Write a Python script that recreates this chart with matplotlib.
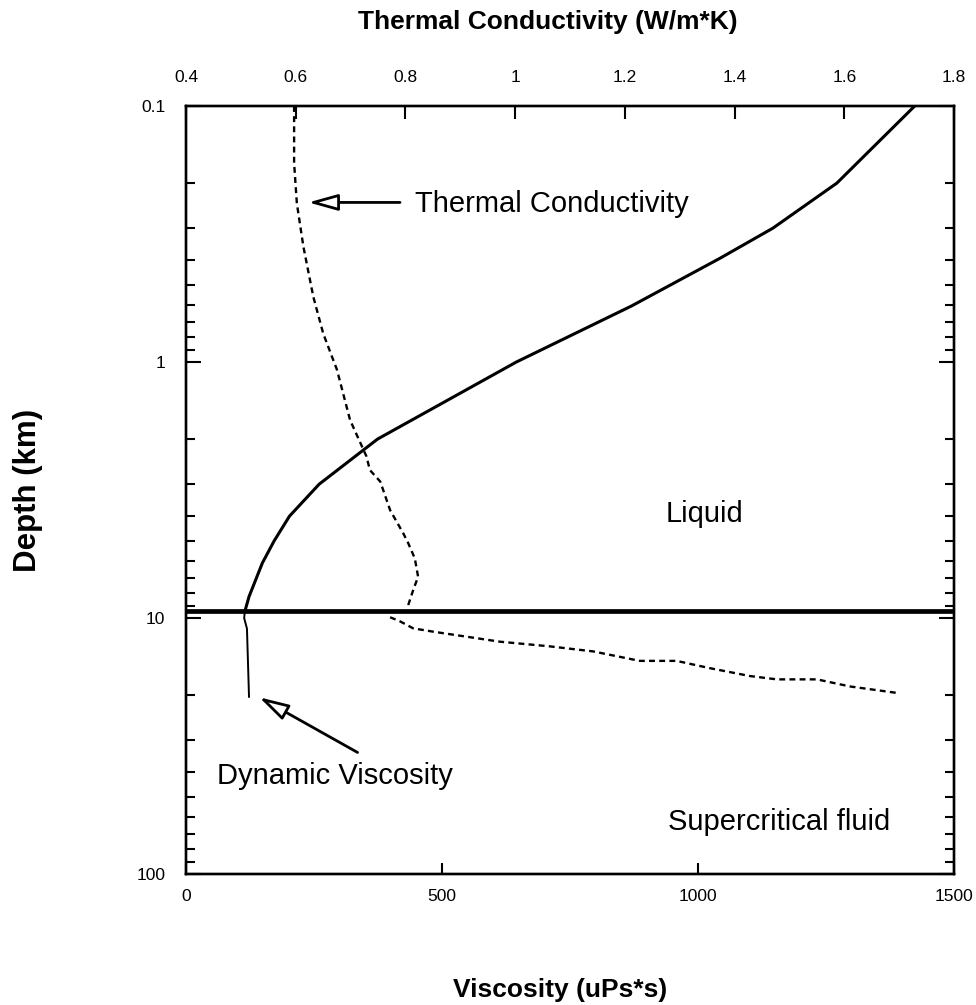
import numpy as np
import matplotlib
matplotlib.use("Agg")
import matplotlib.pyplot as plt
from matplotlib.ticker import FixedLocator, FixedFormatter, LogLocator, NullFormatter

plt.rcParams['font.family'] = ['Liberation Sans', 'DejaVu Sans']

# ---- data ----
# dynamic viscosity (uPa*s), liquid part (above the boundary)
visc_depth_liq = [0.1, 0.2, 0.30, 0.393, 0.604, 1.0, 2.0, 3.0, 4.0, 5.0, 6.1, 8.25, 9.4]
visc_liq = [1423, 1271, 1146, 1043, 870, 645, 374, 260, 202, 172, 149, 123, 115]

# dynamic viscosity, supercritical part (below the boundary)
visc_depth_sc = [9.4, 10.0, 11.0, 20.3]
visc_sc = [115, 113.5, 119, 123]

# thermal conductivity (W/m*K), liquid part
tc_depth_liq = [0.1, 0.167, 0.24, 0.355, 0.556, 0.773, 0.953, 1.07, 1.685, 2.34,
                2.64, 2.93, 3.79, 4.67, 5.1, 5.85, 6.9, 7.78, 8.9, 9.2]
tc_liq = [0.597, 0.597, 0.602, 0.614, 0.632, 0.650, 0.666, 0.675, 0.699, 0.729,
          0.735, 0.754, 0.772, 0.796, 0.805, 0.817, 0.823, 0.814, 0.805, 0.805]

# thermal conductivity, supercritical part
tc_depth_sc = [9.93, 10.3, 10.97, 11.31, 12.37, 12.9, 13.5, 14.7, 14.7, 15.7,
               16.85, 17.36, 17.36, 18.5, 19.6]
tc_sc = [0.772, 0.79, 0.814, 0.851, 0.972, 1.063, 1.142, 1.227, 1.294, 1.355,
         1.428, 1.477, 1.55, 1.61, 1.695]

boundary_depth = 9.4

depth_ticks = [0.1, 1, 10, 100]
depth_labels = ['0.1', '1', '10', '100']
visc_ticks = [0, 500, 1000, 1500]
visc_labels = ['0', '500', '1000', '1500']
tc_ticks = [0.4, 0.6, 0.8, 1.0, 1.2, 1.4, 1.6, 1.8]
tc_labels = ['0.4', '0.6', '0.8', '1', '1.2', '1.4', '1.6', '1.8']

# ---- figure ----
fig = plt.figure(figsize=(9.76, 10.05), dpi=100)
ax = fig.add_axes([0.1906, 0.1303, 0.787, 0.7642])
ax2 = ax.twiny()

ax.set_yscale('log')
ax.set_ylim(100, 0.1)
ax.set_xlim(0, 1500)
ax2.set_xlim(0.4, 1.8)

# curves
ax.plot(visc_liq, visc_depth_liq, color='black', lw=2.2, zorder=3)
ax.plot(visc_sc, visc_depth_sc, color='black', lw=1.4, zorder=3)
dash = (0, (2.5, 1.8))
ax2.plot(tc_liq, tc_depth_liq, color='black', lw=1.7, linestyle=dash, zorder=3)
ax2.plot(tc_sc, tc_depth_sc, color='black', lw=1.7, linestyle=dash, zorder=3)

# liquid / supercritical boundary
ax.axhline(boundary_depth, color='black', lw=3.4, zorder=4)

# ticks
for side in ax.spines.values():
    side.set_linewidth(1.7)
for side in ax2.spines.values():
    side.set_linewidth(1.7)

ax.yaxis.set_major_locator(FixedLocator(depth_ticks))
ax.yaxis.set_major_formatter(FixedFormatter(depth_labels))
ax.yaxis.set_minor_locator(LogLocator(base=10, subs=np.arange(2, 10)))
ax.yaxis.set_minor_formatter(NullFormatter())
ax.set_xticks(visc_ticks)
ax.set_xticklabels(visc_labels)
ax2.set_xticks(tc_ticks)
ax2.set_xticklabels(tc_labels)

ax.tick_params(axis='y', which='major', direction='in', length=11, width=1.5,
               left=True, right=True, labelsize=12.5, pad=15)
ax.tick_params(axis='y', which='minor', direction='in', length=6.5, width=1.5,
               left=True, right=True)
ax.tick_params(axis='x', which='major', direction='in', length=8, width=1.5,
               top=False, labelsize=12.5, pad=11)
ax.tick_params(axis='x', which='minor', bottom=False, top=False)
ax2.tick_params(axis='x', which='major', direction='in', length=9.5, width=1.5,
                bottom=False, labelsize=12.5, pad=15)
ax2.tick_params(axis='x', which='minor', bottom=False, top=False)

# annotations
head = '-|>,head_length=0.9,head_width=0.25'
ax2.annotate('', xy=(0.623, 0.238), xytext=(0.79, 0.238),
             arrowprops=dict(arrowstyle=head, fc='white', ec='black', lw=2,
                             mutation_scale=20, shrinkA=0, shrinkB=0), zorder=5)
ax2.text(0.817, 0.259, 'Thermal Conductivity', fontsize=21, ha='left', va='baseline')

ax.annotate('', xy=(143, 20.4), xytext=(335, 33.5),
            arrowprops=dict(arrowstyle=head, fc='white', ec='black', lw=2,
                            mutation_scale=20, shrinkA=0, shrinkB=0), zorder=5)
ax.text(61, 44.5, 'Dynamic Viscosity', fontsize=21, ha='left', va='baseline')

ax.text(937, 4.21, 'Liquid', fontsize=21, ha='left', va='baseline')
ax.text(941, 67.3, 'Supercritical fluid', fontsize=21, ha='left', va='baseline')

# axis titles
fig.text(0.5615, 1 - 29 / 1005, 'Thermal Conductivity (W/m*K)', fontsize=19,
         fontweight='bold', ha='center', va='baseline')
fig.text(0.574, 1 - 997 / 1005, 'Viscosity (uPs*s)', fontsize=19,
         fontweight='bold', ha='center', va='baseline')
fig.text(0.0287, 0.5124, 'Depth (km)', fontsize=22.5, fontweight='bold',
         rotation=90, ha='center', va='center')

fig.savefig('out.png', dpi=100)
